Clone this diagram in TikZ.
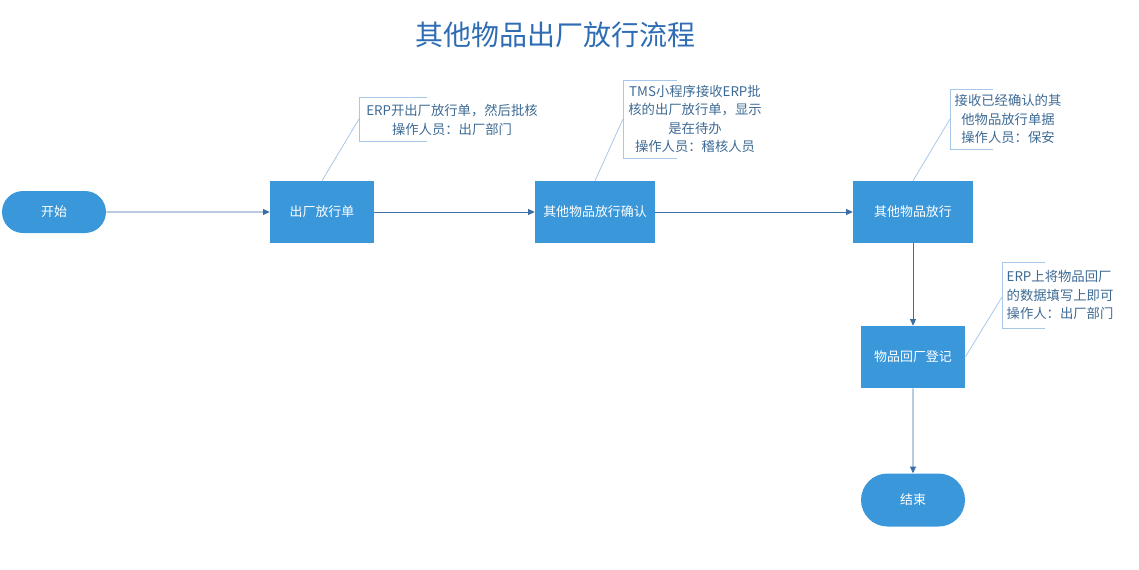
\documentclass[tikz,border=0pt]{standalone}
\usepackage{fontspec}
\setmainfont{Noto Sans CJK SC}
\usepackage{tikz}
\usetikzlibrary{arrows.meta, shapes, positioning}

\definecolor{boxblue}{HTML}{3A97DA}
\definecolor{flowline}{HTML}{3A6EA5}
\definecolor{notetext}{HTML}{3D6A94}
\definecolor{noteline}{HTML}{A7C8E8}
\definecolor{titleblue}{HTML}{2E6DB4}

\begin{document}
\begin{tikzpicture}[x=0.75pt, y=-0.75pt,
    stepbox/.style={rectangle, fill=boxblue, text=white, minimum width=78pt, minimum height=46.5pt, font=\fontsize{9.7}{12}\selectfont, inner sep=0pt},
    endbox/.style={rounded rectangle, fill=boxblue, text=white, minimum width=78pt, font=\fontsize{9.7}{12}\selectfont, inner sep=0pt},
    notebox/.style={text=notetext, align=center, font=\fontsize{10}{13.8}\selectfont, inner sep=0pt},
    flow/.style={draw=flowline, line width=0.65pt, -{Triangle[length=5pt, width=4.5pt]}},
    bracket/.style={draw=noteline, line width=0.6pt}]
        \useasboundingbox (0,0) rectangle (1139,569);
        % Title
        \node[text=titleblue, font=\fontsize{21}{24}\selectfont] (title) at (555,35) {其他物品出厂放行流程};
        % Flow nodes
        \node[endbox, minimum height=31.5pt] (start) at (54,212) {开始};
        \node[stepbox] (issue) at (322,212) {出厂放行单};
        \node[stepbox, minimum width=90pt] (confirm) at (595,212) {其他物品放行确认};
        \node[stepbox, minimum width=90pt] (release) at (913,212) {其他物品放行};
        \node[stepbox] (back) at (913,357) {物品回厂登记};
        \node[endbox, minimum height=39.75pt] (finish) at (913,500) {结束};
        % Connectors
        \draw[flow] (start) -- (issue);
        \draw[flow] (issue) -- (confirm);
        \draw[flow] (confirm) -- (release);
        \draw[flow] (release) -- (back);
        \draw[flow] (back) -- (finish);
        % Notes
        \node[notebox] (note1) at (452,120) {ERP开出厂放行单，然后批核\\操作人员：出厂部门};
        \draw[bracket] (427,97) -- (359,97) -- (359,141) -- (427,141);
        \coordinate (n1) at (359,119);
        \draw[bracket] (n1) -- (issue.north);
        \node[notebox] (note2) at (695,119) {TMS小程序接收ERP批\\核的出厂放行单，显示\\是在待办\\操作人员：稽核人员};
        \draw[bracket] (677,80) -- (623,80) -- (623,158) -- (677,158);
        \coordinate (n2) at (623,119);
        \draw[bracket] (n2) -- (confirm.north);
        \node[notebox] (note3) at (1008,119) {接收已经确认的其\\他物品放行单据\\操作人员：保安};
        \draw[bracket] (993,89) -- (950,89) -- (950,149) -- (993,149);
        \coordinate (n3) at (950,119);
        \draw[bracket] (n3) -- (release.north);
        \node[notebox, align=left] (note4) at (1060,295) {ERP上将物品回厂\\的数据填写上即可\\操作人：出厂部门};
        \draw[bracket] (1045,262) -- (1002,262) -- (1002,328) -- (1045,328);
        \coordinate (n4) at (1002,297);
        \draw[bracket] (n4) -- (back.east);
    \end{tikzpicture}
\end{document}
